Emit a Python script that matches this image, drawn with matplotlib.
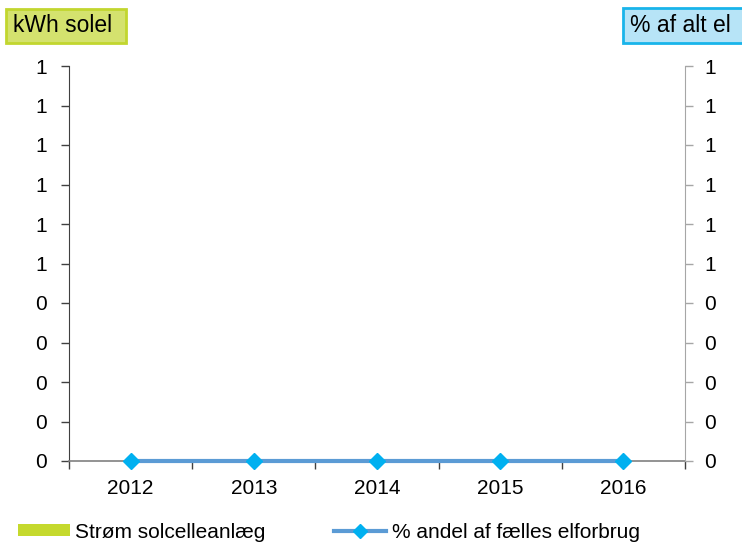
import math
import matplotlib
matplotlib.use("Agg")
import matplotlib.pyplot as plt
from matplotlib.patches import Patch, Rectangle
from matplotlib.lines import Line2D
from matplotlib.ticker import FixedLocator, FuncFormatter

plt.rcParams['font.family'] = ['Liberation Sans', 'DejaVu Sans']

years = ['2012', '2013', '2014', '2015', '2016']
kwh_solel = [0, 0, 0, 0, 0]
pct_af_el = [0, 0, 0, 0, 0]
y_ticks = [0, 0.1, 0.2, 0.3, 0.4, 0.5, 0.6, 0.7, 0.8, 0.9, 1.0]

bar_color = '#c5d92d'
line_color = '#5b9bd5'
marker_color = '#00b0f0'
FS = 15

W, H = 742, 546
fig = plt.figure(figsize=(W/100, H/100), dpi=100)
ax = fig.add_axes([69/W, 1-461/H, (685-69)/W, (461-66)/H])
ax2 = ax.twinx()

x = list(range(len(years)))
ax.bar(x, kwh_solel, width=0.5, color=bar_color, zorder=2)
ax2.plot(x, pct_af_el, color=line_color, lw=3, marker='D', markersize=8.5,
         markerfacecolor=marker_color, markeredgecolor=marker_color, zorder=3,
         clip_on=False)

def fmt(v, pos=None):
    return str(int(math.floor(v + 0.5 + 1e-9)))

for a in (ax, ax2):
    a.set_ylim(0, 1)
    a.yaxis.set_major_locator(FixedLocator(y_ticks))
    a.yaxis.set_major_formatter(FuncFormatter(fmt))
    a.set_xlim(-0.5, len(years) - 0.5)
    for s in a.spines.values():
        s.set_visible(False)

ax.spines['left'].set_visible(True)
ax.spines['left'].set_color('#404040')
ax.spines['bottom'].set_visible(True)
ax.spines['bottom'].set_color('#808080')
ax.spines['bottom'].set_linewidth(1.2)
ax2.spines['right'].set_visible(True)
ax2.spines['right'].set_color('#a6a6a6')

ax.tick_params(axis='y', direction='out', length=6, width=1, color='#404040',
               labelsize=FS, pad=10)
ax2.tick_params(axis='y', direction='out', length=6, width=1, color='#a6a6a6',
                labelsize=FS, pad=8)

ax.set_xticks(x)
ax.set_xticklabels(years)
ax.set_xticks([i - 0.5 for i in range(len(years) + 1)], minor=True)
ax.tick_params(axis='x', which='major', length=0, labelsize=FS, pad=13)
ax.tick_params(axis='x', which='minor', length=6, width=1, color='#404040',
               direction='out')

# axis title boxes
def box(x0, y0, x1, y1, fc, ec):
    r = Rectangle((x0/W, 1-y1/H), (x1-x0)/W, (y1-y0)/H, transform=fig.transFigure,
                  facecolor=fc, edgecolor=ec, linewidth=2)
    fig.patches.append(r)

box(6, 9, 126, 43, '#d4e26e', '#c2d62f')
box(623, 8, 745, 43, '#b7e4f7', '#19b4ea')
fig.text(13/W, 1-26/H, 'kWh solel', fontsize=16.5, ha='left', va='center')
fig.text(630/W, 1-26/H, '% af alt el', fontsize=16.5, ha='left', va='center')

handles = [Patch(facecolor=bar_color, edgecolor='none'),
           Line2D([], [], color=line_color, lw=3, marker='D', markersize=7,
                  markerfacecolor=marker_color, markeredgecolor=marker_color)]
labels = ['Strøm solcelleanlæg', '% andel af fælles elforbrug']
fig.legend(handles, labels, loc='center left', bbox_to_anchor=(18/W, 1-532/H),
           ncol=2, frameon=False, fontsize=FS, handlelength=2.5,
           handleheight=0.53, handletextpad=0.25, columnspacing=3.3,
           borderpad=0, borderaxespad=0)

fig.savefig('out.png', dpi=100)
